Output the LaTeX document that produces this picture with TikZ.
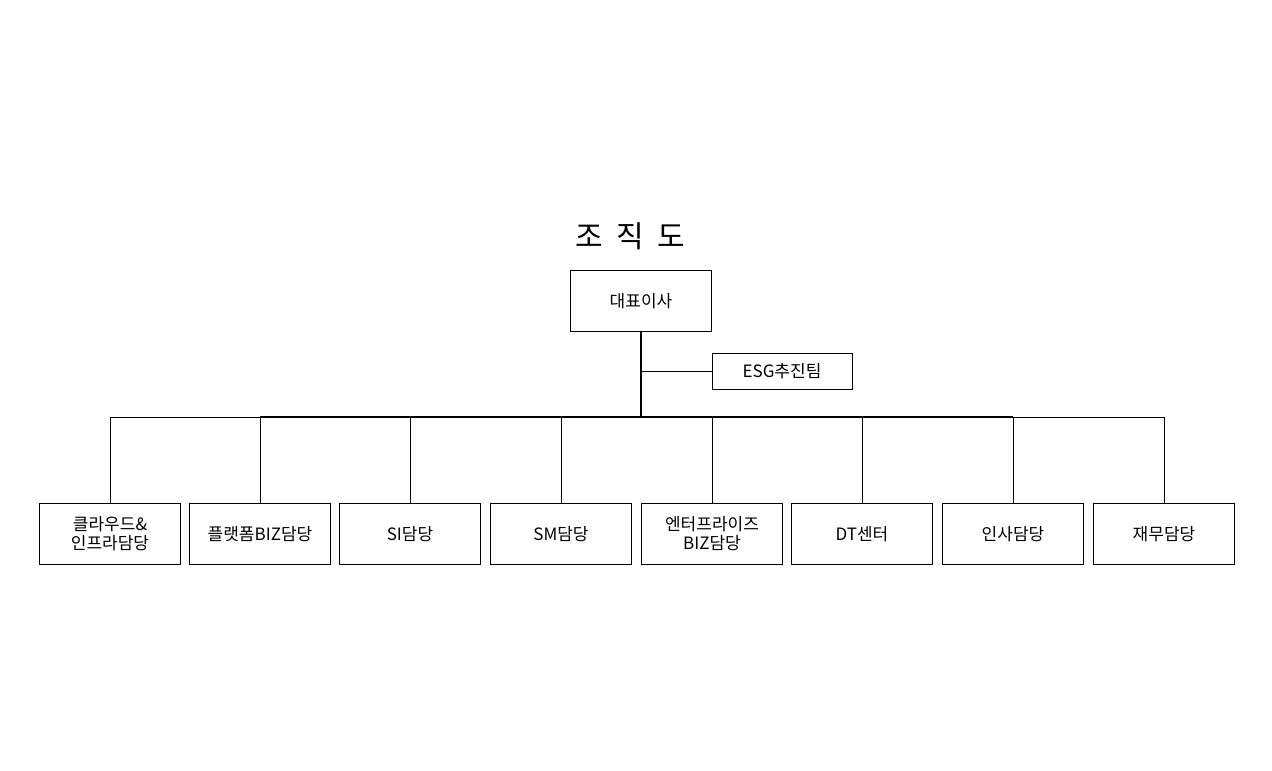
\documentclass[tikz,border=0pt]{standalone}
\usepackage{fontspec}
\setmainfont{Noto Sans CJK KR}
\begin{document}
\begin{tikzpicture}[x=1pt,y=-1pt,
  box/.style={draw,line width=0.8pt,minimum width=141pt,minimum height=61pt,inner sep=0pt,align=center,font=\fontsize{17}{19}\selectfont},
  ln/.style={line width=0.8pt}]
\useasboundingbox (0,0) rectangle (1272,771);
\node[font=\fontsize{30}{32}\selectfont] (t) at (630,236) {조\ \ 직\ \ 도};
\node[box] (ceo) at (641,301) {대표이사};
\node[box,minimum width=140pt,minimum height=36pt] (esg) at (782,371) {ESG추진팀};
\coordinate (j) at (641,417);
\draw[line width=1.6pt] (ceo.south) -- (j);
\draw[ln] (641,371) -- (esg.west);
\foreach \n/\x/\t in {a/110/{클라우드\&\\인프라담당},b/260/플랫폼BIZ담당,c/410/SI담당,d/561/SM담당,e/712/{엔터프라이즈\\BIZ담당},f/862/DT센터,g/1013/인사담당,h/1164/재무담당}{
  \node[box] (\n) at (\x,534) {\t};
  \draw[ln] (\n.north) -- (\x,417);
}
\draw[ln] (110,417) -- (1164,417);
\draw[line width=1.4pt] (260,417) -- (1013,417);
\end{tikzpicture}
\end{document}
